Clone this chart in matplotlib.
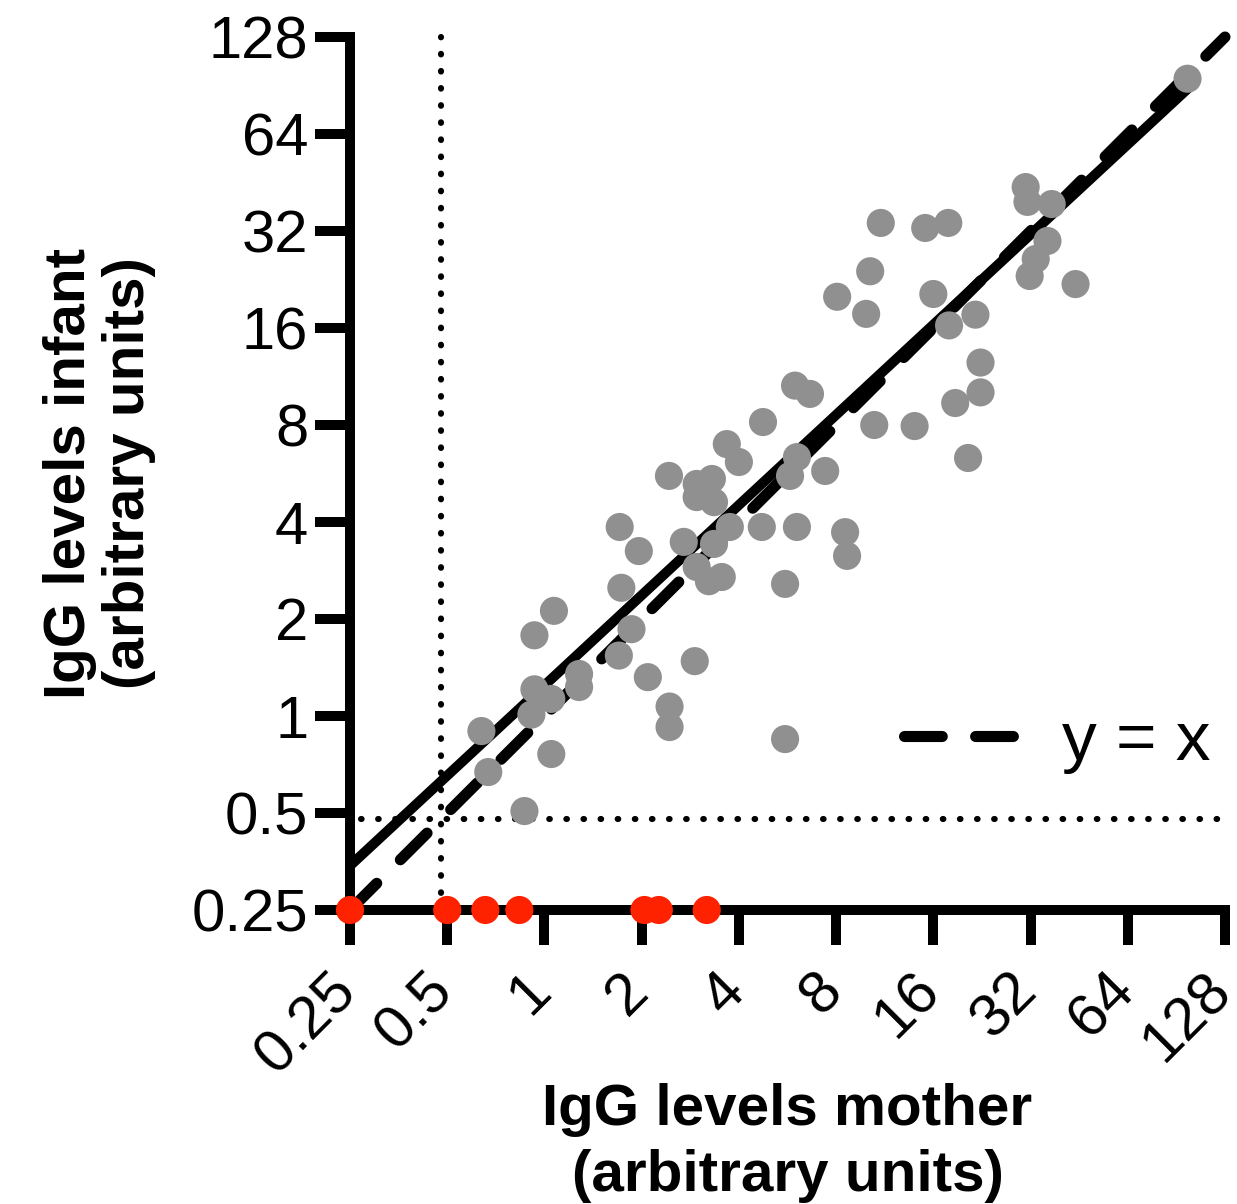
import matplotlib
matplotlib.use('Agg')
import matplotlib.pyplot as plt
import matplotlib.transforms as mtransforms
from matplotlib.ticker import NullLocator

plt.rcParams['font.family'] = ['Liberation Sans', 'DejaVu Sans']

# Data: IgG levels (arbitrary units), mother (x) vs infant (y)
mother = [98, 30.9, 31.3, 37.2, 36.1, 33.2, 31.8, 44.1, 11.0, 15.1,
          17.8, 10.2, 16.0, 8.06, 9.91, 21.6, 17.9, 22.4, 22.4, 18.7,
          20.5, 14.0, 10.5, 5.97, 6.64, 4.75, 3.67, 4.0, 6.05, 5.76,
          7.40, 8.53, 8.65, 4.71, 6.05, 5.56, 5.56, 2.43, 2.96, 3.30,
          2.96, 3.35, 3.75, 3.35, 2.70, 2.96, 3.23, 3.54, 1.71, 1.96,
          1.73, 1.86, 1.70, 2.09, 2.44, 2.44, 2.92, 1.07, 0.931, 1.28,
          1.28, 0.931, 1.05, 0.911, 0.638, 0.670, 1.05, 0.867]
infant = [95, 43.8, 39.4, 38.8, 29.8, 26.2, 23.2, 21.9, 33.9, 32.7,
          33.9, 24.0, 20.4, 20.0, 17.7, 17.6, 16.3, 12.5, 10.1, 9.36,
          6.32, 7.94, 8.0, 10.6, 9.99, 8.17, 6.98, 6.14, 6.36, 5.56,
          5.76, 3.72, 3.14, 3.86, 3.86, 2.57, 0.848, 5.56, 5.25, 5.44,
          4.78, 4.61, 3.86, 3.42, 3.47, 2.90, 2.62, 2.70, 3.86, 3.25,
          2.50, 1.86, 1.54, 1.32, 1.07, 0.924, 1.48, 2.12, 1.78, 1.35,
          1.23, 1.21, 1.13, 1.01, 0.898, 0.670, 0.762, 0.507]

# Infants below detection limit (plotted at 0.25)
red_mother = [0.25, 0.5, 0.656, 0.836, 2.04, 2.26, 3.18]
red_infant = [0.25, 0.25, 0.25, 0.25, 0.25, 0.25, 0.25]

# Regression line end points and identity line
fit_x = [0.25, 100]
fit_y = [0.343, 90]
ident_x = [0.25, 128]
ident_y = [0.25, 128]
cutoff = 0.48

ticks = [0.25, 0.5, 1, 2, 4, 8, 16, 32, 64, 128]
tick_labels = ['0.25', '0.5', '1', '2', '4', '8', '16', '32', '64', '128']

fig = plt.figure(figsize=(12.37, 12.04), dpi=100)
ax = fig.add_axes([350 / 1237, 1 - 910 / 1204, 875 / 1237, 873 / 1204])
ax.set_xscale('log', base=2)
ax.set_yscale('log', base=2)
ax.set_xlim(0.25, 128)
ax.set_ylim(0.25, 128)

dot_style = (0, (0.1, 2.7))
ax.plot([cutoff, cutoff], [0.25, 128], color='black', lw=4.4,
        linestyle=dot_style, dash_capstyle='round', zorder=1, clip_on=False)
ax.plot([0.27, 128], [cutoff, cutoff], color='black', lw=4.4,
        linestyle=dot_style, dash_capstyle='round', zorder=1, clip_on=False)

ax.plot(fit_x, fit_y, color='black', lw=7.2, solid_capstyle='butt',
        zorder=2, clip_on=False)
ax.plot(ident_x, ident_y, color='black', lw=8, linestyle=(0, (3.4, 3.0)),
        dash_capstyle='round', zorder=2, clip_on=False, label='y = x')

ax.scatter(mother, infant, s=410, color='#909090', edgecolors='none',
           zorder=3, clip_on=False)
ax.scatter(red_mother, red_infant, s=410, color='#ff2200', edgecolors='none',
           zorder=5, clip_on=False)

for side in ['top', 'right']:
    ax.spines[side].set_visible(False)
for side in ['left', 'bottom']:
    ax.spines[side].set_linewidth(7.2)
    ax.spines[side].set_capstyle('projecting')

ax.set_xticks(ticks)
ax.set_yticks(ticks)
ax.xaxis.set_minor_locator(NullLocator())
ax.yaxis.set_minor_locator(NullLocator())
ax.set_xticklabels(tick_labels, rotation=45, ha='right', va='top',
                   rotation_mode='anchor')
ax.set_yticklabels(tick_labels)
ax.tick_params(width=7.2, length=25, labelsize=43, pad=5, direction='out')

shift = mtransforms.ScaledTranslation(-22 / 100, -11 / 100, fig.dpi_scale_trans)
for lab in ax.get_xticklabels():
    lab.set_transform(lab.get_transform() + shift)

ax.set_xlabel('IgG levels mother\n(arbitrary units)', fontsize=42,
              fontweight='bold', linespacing=1.3)
ax.xaxis.set_label_coords(0.5, -0.198)
ax.set_ylabel('IgG levels infant\n(arbitrary units)', fontsize=42,
              fontweight='bold', linespacing=1.12)
ax.yaxis.set_label_coords(-0.222, 0.5)

ax.legend(loc='center right', bbox_to_anchor=(0.984, 0.192), frameon=False,
          fontsize=50, handlelength=1.6, handletextpad=0.68, borderpad=0,
          borderaxespad=0)

fig.savefig('out.png', dpi=100)
